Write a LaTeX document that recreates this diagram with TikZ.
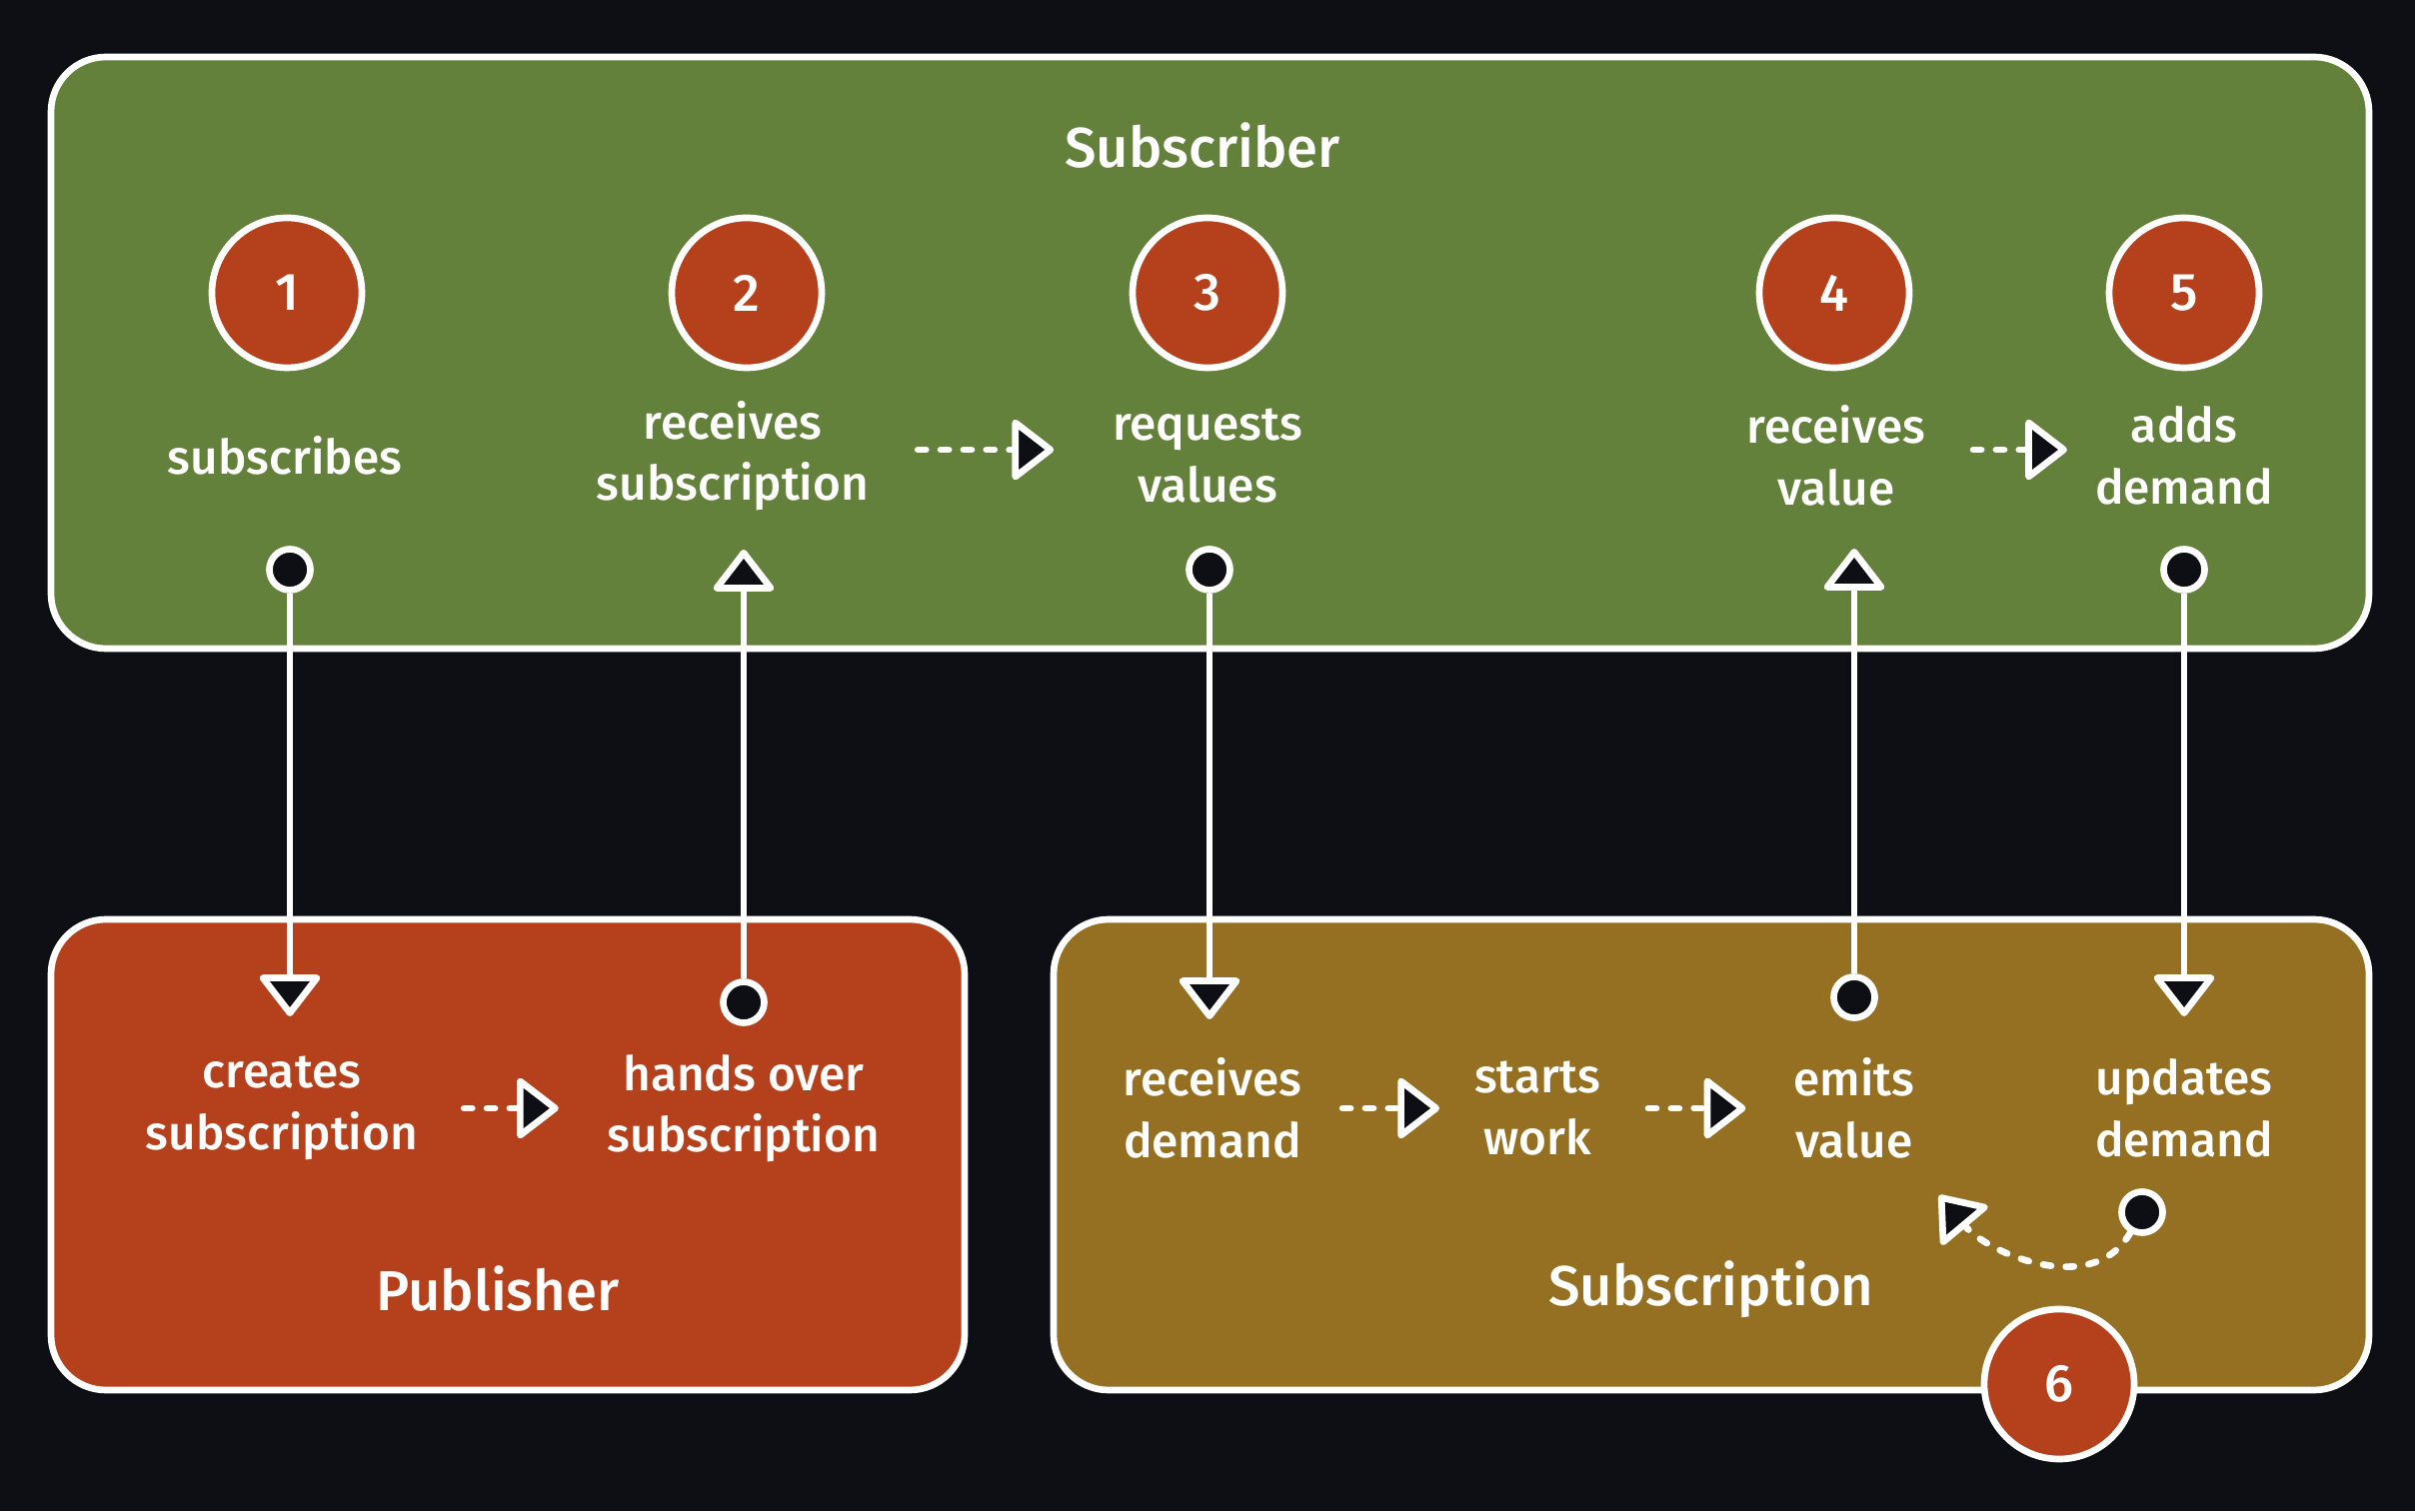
\documentclass[tikz,border=0pt]{standalone}
\usepackage{fontspec}
\setmainfont{Fira Sans}[UprightFont=* Medium]
\usetikzlibrary{arrows.meta}
\definecolor{bg}{HTML}{0D0F14}
\definecolor{leaf}{HTML}{64813B}
\definecolor{rust}{HTML}{B4401C}
\definecolor{ochre}{HTML}{967022}

\begin{document}
\begin{tikzpicture}[line width=1.9pt]
   \tikzset{box/.style 2 args={draw=white, rounded corners=0.55cm, minimum width=#1, minimum height=#2}};
   \tikzset{num/.style={draw=white, circle, fill=rust, minimum size=1.5cm, inner sep=0, text=white, font=\fontsize{15}{18}\selectfont},
            lbl/.style={text=white, align=center, font=\fontsize{13.6}{17.5}\selectfont},
            title/.style={text=white, font=\fontsize{16}{19}\selectfont},
            dot/.style={draw=white, circle, fill=bg, minimum size=0.41cm, inner sep=0},
            link/.style={draw=white, -{Triangle[length=0.44cm, width=0.66cm, fill=bg, round]}},
            flow/.style={link, dash pattern=on 2.3pt off 4.2pt, line cap=round}};

\useasboundingbox[fill=bg] (0,0) rectangle (24.16,15.12);

% boxes
\node[box={23.19cm}{5.92cm}, fill=leaf] (subscriber) at (12.105,11.59) {};
\node[box={9.14cm}{4.71cm}, fill=rust] (publisher) at (5.08,3.565) {};
\node[box={13.16cm}{4.71cm}, fill=ochre] (subscription) at (17.12,3.565) {};

\node[title] at (12.03,13.66) {Subscriber};
\node[title] at (4.98,2.22) {Publisher};
\node[title] at (17.12,2.22) {Subscription};

% steps
\node[num] (n1) at (2.87,12.19) {1};
\node[num] (n2) at (7.47,12.19) {2};
\node[num] (n3) at (12.08,12.19) {3};
\node[num] (n4) at (18.35,12.19) {4};
\node[num] (n5) at (21.85,12.19) {5};

\node[lbl] (subscribes) at (2.85,10.56) {subscribes};
\node[lbl] (recsub) at (7.33,10.56) {receives\\subscription};
\node[lbl] (request) at (12.08,10.56) {requests\\values};
\node[lbl] (recval) at (18.37,10.56) {receives\\value};
\node[lbl] (adds) at (21.85,10.56) {adds\\demand};

\node[lbl] (creates) at (2.82,4.03) {creates\\subscription};
\node[lbl] (hands) at (7.44,4.03) {hands over\\subscription};
\node[lbl] (recdem) at (12.13,4.03) {receives\\demand};
\node[lbl] (starts) at (15.38,4.03) {starts\\work};
\node[lbl] (emits) at (18.55,4.03) {emits\\value};
\node[lbl] (updates) at (21.85,4.03) {updates\\demand};

\draw[flow] ([xshift=0.34cm,yshift=0.06cm]recsub.east) -- ([xshift=-0.44cm,yshift=0.06cm]request.west);
\draw[flow] ([xshift=0.33cm,yshift=0.06cm]recval.east) -- ([xshift=-0.13cm,yshift=0.06cm]adds.west);
\draw[flow] ([xshift=0.31cm]creates.east) -- ([xshift=-0.34cm]hands.west);
\draw[flow] ([xshift=0.26cm]recdem.east) -- ([xshift=-0.2cm]starts.west);
\draw[flow] ([xshift=0.33cm]starts.east) -- ([xshift=-0.33cm]emits.west);

% calls between the boxes
\node[dot] (d1) at (2.90,9.42) {};
\node[dot] (d2) at (7.44,5.09) {};
\node[dot] (d3) at (12.10,9.42) {};
\node[dot] (d4) at (18.55,5.14) {};
\node[dot] (d5) at (21.85,9.42) {};
\node[dot] (d6) at (21.43,2.99) {};

\coordinate (t1) at (2.90,4.95);
\coordinate (t2) at (7.44,9.62);
\coordinate (t3) at (12.10,4.92);
\coordinate (t4) at (18.55,9.63);
\coordinate (t5) at (21.85,4.95);
\coordinate (t6) at (19.40,3.16);

\draw[link] (d1) -- (t1);
\draw[link] (d2) -- (t2);
\draw[link] (d3) -- (t3);
\draw[link] (d4) -- (t4);
\draw[link] (d5) -- (t5);
\draw[flow] (d6) to[out=-120,in=-50] (t6);

\node[num] (n6) at (20.60,1.27) {6};

\end{tikzpicture}
\end{document}
